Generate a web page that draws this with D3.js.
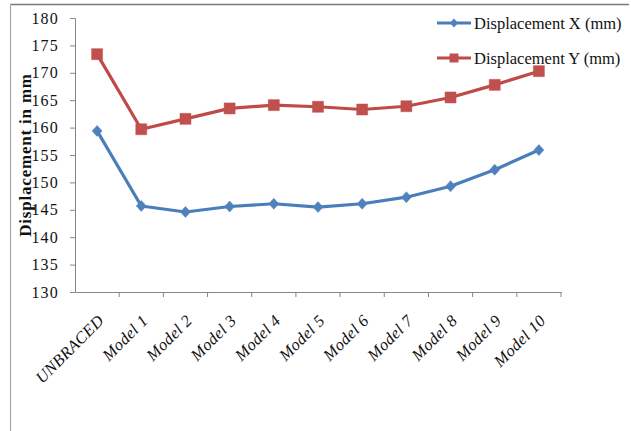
<!DOCTYPE html>
<html>
<head>
<meta charset="utf-8">
<script src="https://cdn.jsdelivr.net/npm/d3@7"></script>
<style>
  html, body { margin: 0; padding: 0; background: #fff; }
  svg { display: block; }
</style>
</head>
<body>
<svg id="chart" width="631" height="431"></svg>
<script>
// Displacement per bracing model
const categories = ["UNBRACED", "Model 1", "Model 2", "Model 3", "Model 4", "Model 5",
                    "Model 6", "Model 7", "Model 8", "Model 9", "Model 10"];
const displacementX = [159.4, 145.7, 144.6, 145.6, 146.1, 145.5, 146.1, 147.3, 149.3, 152.3, 155.9];
const displacementY = [173.4, 159.7, 161.6, 163.5, 164.1, 163.8, 163.3, 163.9, 165.5, 167.8, 170.3];
const yTicks = [130, 135, 140, 145, 150, 155, 160, 165, 170, 175, 180];
const seriesNames = ["Displacement X (mm)", "Displacement Y (mm)"];
const yTitle = "Displacement in mm";

const svg = d3.select("#chart");
const serif = "'Liberation Serif', 'Times New Roman', serif";
const axisColor = "#868686";

const plotLeft = 75, plotRight = 561, plotTop = 18, plotBottom = 292;

const x = d3.scaleBand().domain(categories).range([plotLeft, plotRight]);
const y = d3.scaleLinear().domain([130, 180]).range([plotBottom, plotTop]);

// outer frame (top rule and left rule)
svg.append("line").attr("x1", 10).attr("x2", 629).attr("y1", 4.5).attr("y2", 4.5)
  .attr("stroke", "#7a7a7a").attr("stroke-width", 1.5);
svg.append("line").attr("x1", 10.5).attr("x2", 10.5).attr("y1", 4).attr("y2", 431)
  .attr("stroke", "#a8a8a8").attr("stroke-width", 1.2);

// y axis
const yAxis = svg.append("g").attr("transform", `translate(${plotLeft},0)`)
  .call(d3.axisLeft(y).tickValues(yTicks).tickSize(5).tickSizeOuter(0).tickPadding(11));
yAxis.select(".domain").attr("stroke", axisColor);
yAxis.selectAll(".tick line").attr("stroke", axisColor);
yAxis.selectAll(".tick text")
  .attr("font-family", serif).attr("font-size", 16).attr("fill", "#111")
  .attr("letter-spacing", 1.2);

// x axis: line, ticks at category boundaries, slanted labels
const xAxis = svg.append("g").attr("transform", `translate(0,${plotBottom})`)
  .call(d3.axisBottom(x).tickSize(0).tickSizeOuter(0).tickFormat(""));
xAxis.select(".domain").attr("stroke", axisColor);
xAxis.selectAll(".tick").remove();

const bounds = categories.slice(1).map(c => x(c)).concat([x.range()[1]]);
svg.append("g").selectAll("line").data(bounds).join("line")
  .attr("x1", d => d).attr("x2", d => d)
  .attr("y1", plotBottom).attr("y2", plotBottom + 5)
  .attr("stroke", axisColor);

svg.append("g").selectAll("text").data(categories).join("text")
  .attr("transform", d => `translate(${x(d) + x.bandwidth() / 2},${plotBottom + 22}) rotate(-45)`)
  .attr("text-anchor", "end")
  .attr("dy", "0.66em")
  .attr("font-family", serif).attr("font-style", "italic").attr("font-size", 16.5)
  .attr("letter-spacing", 0.3)
  .attr("fill", "#111")
  .text(d => d);

// y axis title
svg.append("text")
  .attr("transform", `translate(31,${(plotTop + plotBottom) / 2}) rotate(-90)`)
  .attr("text-anchor", "middle")
  .attr("font-family", serif).attr("font-weight", "bold").attr("font-size", 17)
  .attr("letter-spacing", 0.8)
  .attr("fill", "#111")
  .text(yTitle);

// series
const cx = d => x(d) + x.bandwidth() / 2;
const series = [
  { name: seriesNames[0], values: displacementX, line: "#4A7EBB", fill: "#4F81BD", shape: "diamond" },
  { name: seriesNames[1], values: displacementY, line: "#BE4B48", fill: "#C0504D", shape: "square" }
];

const diamond = (hw, hh) => `M0,${-hh}L${hw},0L0,${hh}L${-hw},0Z`;
const square = s => `M${-s},${-s}H${s}V${s}H${-s}Z`;
const markerPath = (shape, big) => shape === "diamond"
  ? diamond(big ? 5 : 4, big ? 5.5 : 4.5)
  : square(big ? 5.5 : 4.5);

const lineGen = d3.line().x(d => cx(d.cat)).y(d => y(d.v));

series.forEach(s => {
  const pts = categories.map((c, i) => ({ cat: c, v: s.values[i] }));
  svg.append("path").datum(pts)
    .attr("d", lineGen)
    .attr("fill", "none")
    .attr("stroke", s.line)
    .attr("stroke-width", 3.2)
    .attr("stroke-linejoin", "round");
  svg.append("g").selectAll("path").data(pts).join("path")
    .attr("transform", d => `translate(${cx(d.cat)},${y(d.v)})`)
    .attr("d", markerPath(s.shape, true))
    .attr("fill", s.fill)
    .attr("stroke", s.fill)
    .attr("stroke-width", 0.5);
});

// legend
const legend = svg.append("g");
const legendRows = [23, 58];
series.forEach((s, i) => {
  const gy = legendRows[i];
  legend.append("line").attr("x1", 437).attr("x2", 471).attr("y1", gy).attr("y2", gy)
    .attr("stroke", s.line).attr("stroke-width", 3);
  legend.append("path").attr("transform", `translate(454,${gy})`)
    .attr("d", markerPath(s.shape, false)).attr("fill", s.fill);
  legend.append("text").attr("x", 474).attr("y", gy + 6)
    .attr("font-family", serif).attr("font-size", 16.5).attr("fill", "#111")
    .text(s.name);
});
</script>
</body>
</html>
